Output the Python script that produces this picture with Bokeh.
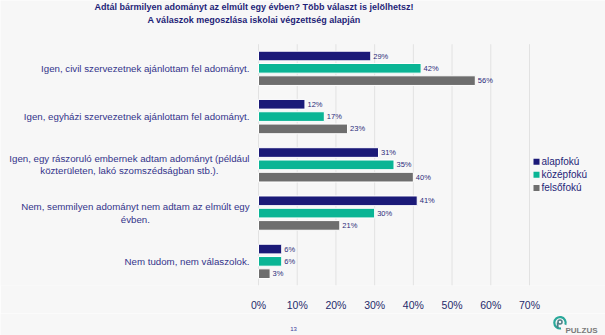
import math
from bokeh.plotting import figure
from bokeh.layouts import column
from bokeh.models import Range1d, FixedTicker, Label, ColumnDataSource
from bokeh.core.properties import value
from bokeh.embed import file_html
from bokeh.resources import INLINE

# ---------------- data ----------------
title_lines = [
    "Adtál bármilyen adományt az elmúlt egy évben? Több választ is jelölhetsz!",
    "A válaszok megoszlása iskolai végzettség alapján",
]
categories = [
    "Igen, civil szervezetnek ajánlottam fel adományt.",
    "Igen, egyházi szervezetnek ajánlottam fel adományt.",
    "Igen, egy rászoruló embernek adtam adományt (például\nközterületen, lakó szomszédságban stb.).",
    "Nem, semmilyen adományt nem adtam az elmúlt egy\névben.",
    "Nem tudom, nem válaszolok.",
]
series_names = ["alapfokú", "középfokú", "felsőfokú"]
alapfoku = [29, 12, 31, 41, 6]
kozepfoku = [42, 17, 35, 30, 6]
felsofoku = [56, 23, 40, 21, 3]
x_ticks = [0, 10, 20, 30, 40, 50, 60, 70]
x_tick_labels = ["0%", "10%", "20%", "30%", "40%", "50%", "60%", "70%"]
page_number = "13"
logo_text = "PULZUS"

series_values = [alapfoku, kozepfoku, felsofoku]
colors = ["#1b1a78", "#0ab595", "#6e6e6e"]

# ---------------- geometry helpers (screen px -> data) ----------------
W, H = 605, 335
MAIN_H = 313
X0, PX_X = 258.0, 271.0 / 70.0
Y0, PX_Y = 44.0, 48.6
FRAME_BOTTOM = 287


def dx(px):
    return (px - X0) / PX_X


def dy(py):
    return (py - Y0) / PX_Y


BG = "#f7f7f7"
NAVY = "#1f1f78"
LABEL_COL = "#33338a"
FONT = "Liberation Sans"

p = figure(width=W, height=MAIN_H, output_backend="svg", toolbar_location=None,
           x_range=Range1d(dx(0), dx(W)), y_range=Range1d(dy(FRAME_BOTTOM), dy(0)),
           min_border_left=0, min_border_right=0, min_border_top=0,
           min_border_bottom=MAIN_H - FRAME_BOTTOM)
p.background_fill_color = BG
p.border_fill_color = BG
p.outline_line_color = None
p.xgrid.visible = False
p.ygrid.visible = False
p.yaxis.visible = False

ax = p.xaxis[0]
ax.ticker = FixedTicker(ticks=x_ticks)
ax.major_label_overrides = {t: l for t, l in zip(x_ticks, x_tick_labels)}
ax.axis_line_color = None
ax.major_tick_line_color = None
ax.minor_tick_line_color = None
ax.major_label_standoff = 7
ax.major_label_text_font = FONT
ax.major_label_text_font_size = "10.5px"
ax.major_label_text_color = "#1f2a6b"

# vertical grid lines only across the plotting band
n = len(categories)
p.segment(x0=x_ticks, y0=[0] * len(x_ticks), x1=x_ticks, y1=[n] * len(x_ticks),
          line_color="#e2e2e2", line_width=1)

# bars
offsets = [-0.255, 0.0, 0.255]
for vals, col, off in zip(series_values, colors, offsets):
    ys = [i + 0.5 + off for i in range(n)]
    src = ColumnDataSource(dict(y=ys, right=vals, lab=[f"{v}%" for v in vals]))
    p.hbar(y="y", left=0, right="right", height=0.2, source=src,
           fill_color=col, line_color="white", line_width=1)
    p.text(x="right", y="y", text="lab", source=src, x_offset=2.5,
           text_align="left", text_baseline="middle",
           text_font=value(FONT), text_font_size="7.5px", text_color="#2b2b7a")

# category labels
for i, cat in enumerate(categories):
    lbl = Label(x=dx(249), y=i + 0.5, text=cat, text_align="center",
                anchor="center_right", text_baseline="middle",
                text_font=FONT, text_font_size="9.7px", text_color=LABEL_COL,
                text_line_height=1.12)
    p.add_layout(lbl)

# title
for k, line in enumerate(title_lines):
    p.text(x=[dx(253.5)], y=[dy(7 + 12.3 * k)], text=[line], text_align="center",
           text_baseline="middle", text_font=value(FONT), text_font_style="bold",
           text_font_size="9px", text_color=NAVY)

# legend
leg_y = [dy(162.3 + 13.2 * k) for k in range(len(series_names))]
p.scatter(x=[dx(536)] * 3, y=leg_y, marker="square", size=6, fill_color=colors,
          line_color=None)
p.text(x=[dx(541)] * 3, y=leg_y, text=series_names, text_align="left",
       text_baseline="middle", text_font=value(FONT), text_font_size="10px",
       text_color=NAVY)

# ---------------- footer strip (page number + logo) ----------------
FH = H - MAIN_H
f = figure(width=W, height=FH, output_backend="svg", toolbar_location=None,
           x_range=Range1d(0, W), y_range=Range1d(FH, 0),
           min_border=0, x_axis_type=None, y_axis_type=None)
f.background_fill_color = BG
f.border_fill_color = BG
f.outline_line_color = None
f.xgrid.visible = False
f.ygrid.visible = False

f.text(x=[293], y=[328 - MAIN_H], text=[page_number], text_align="center",
       text_baseline="middle", text_font=value(FONT), text_font_size="6px",
       text_color="#3a3a9a")
# logo ring
f.annular_wedge(x=[559.5], y=[322.3 - MAIN_H], inner_radius=4.6, outer_radius=6.8,
                start_angle=[math.radians(-20)], end_angle=[math.radians(280)],
                fill_color="#2aa89a", line_color=None)
f.annulus(x=[559.5], y=[321.5 - MAIN_H], inner_radius=1.3, outer_radius=2.8,
          fill_color="#4f7f86", line_color=None)
f.segment(x0=[557.2], y0=[322 - MAIN_H], x1=[557.2], y1=[327.5 - MAIN_H],
          line_color="#4f7f86", line_width=1.8)
f.text(x=[565], y=[330 - MAIN_H], text=[logo_text], text_align="left",
       text_baseline="middle", text_font=value(FONT), text_font_size="8px",
       text_font_style="bold", text_color="#7a7a7a")

layout = column(p, f, spacing=0)
open("out.html", "w").write(file_html(layout, INLINE))
